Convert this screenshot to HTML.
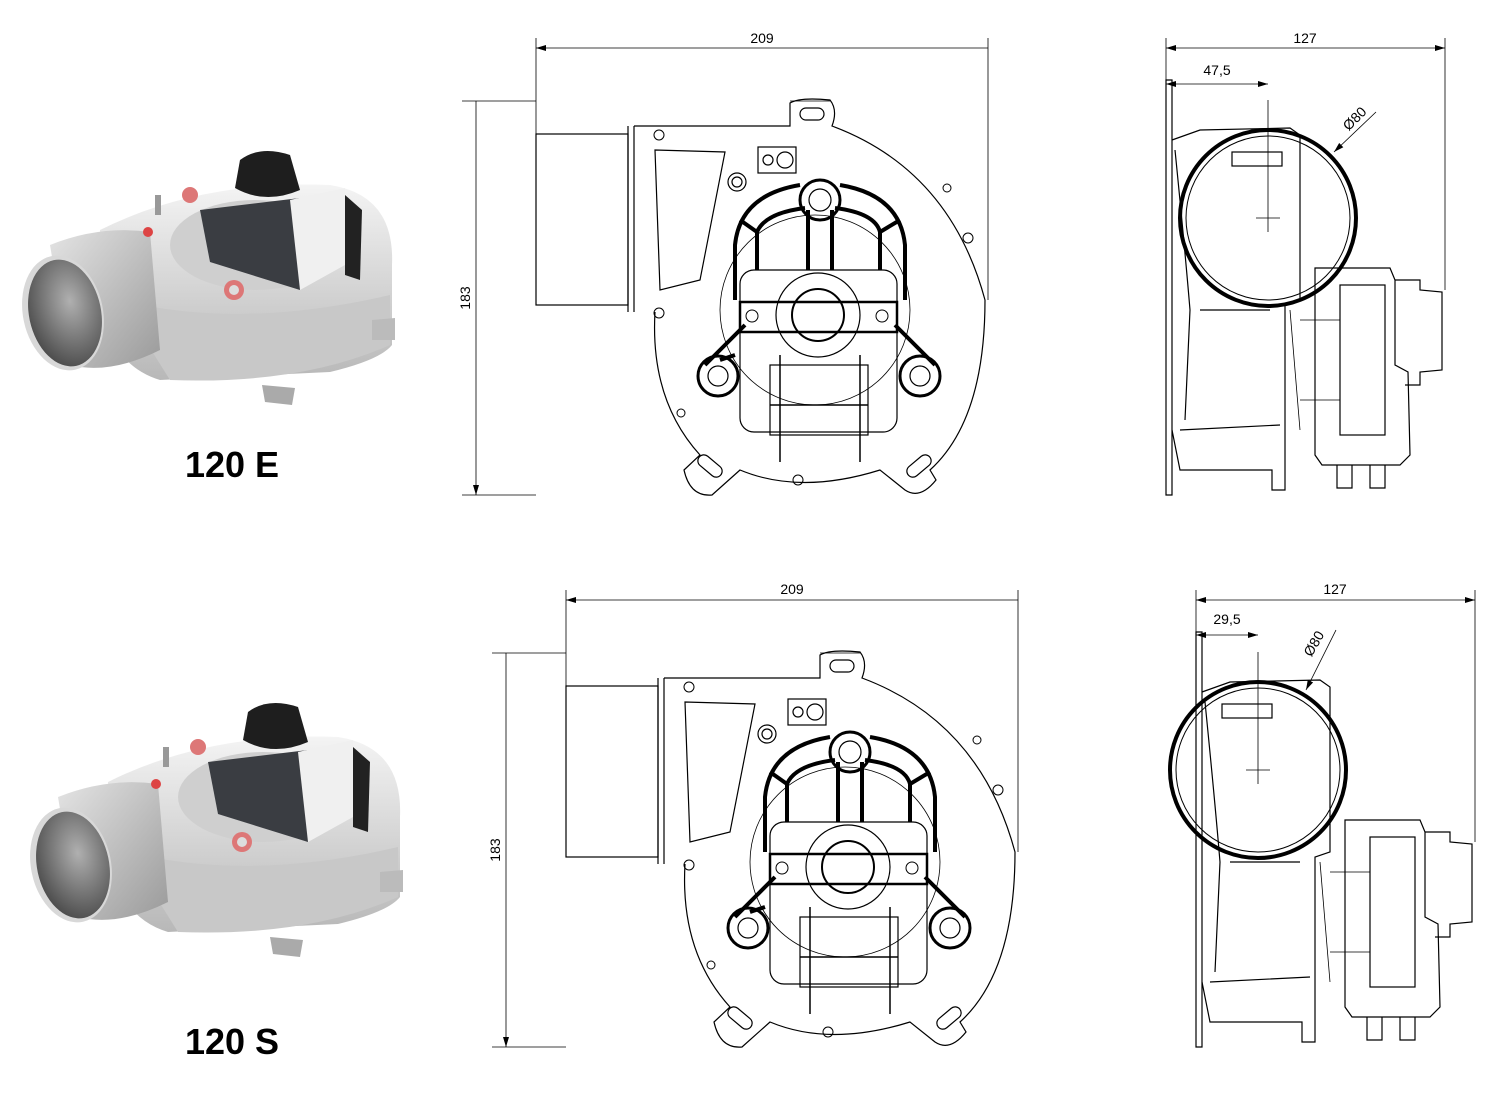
<!DOCTYPE html>
<html><head><meta charset="utf-8"><style>
html,body{margin:0;padding:0;background:#fff;}
svg{display:block}
text{font-family:"Liberation Sans",sans-serif}
</style></head><body>
<svg width="1500" height="1100" viewBox="0 0 1500 1100" xmlns="http://www.w3.org/2000/svg">
<defs>
<linearGradient id="pipe" x1="0" y1="0" x2="1" y2="1"><stop offset="0" stop-color="#e4e4e4"/><stop offset="1" stop-color="#9a9a9a"/></linearGradient>
<linearGradient id="body" x1="0" y1="0" x2="0" y2="1"><stop offset="0" stop-color="#f4f4f4"/><stop offset="1" stop-color="#b8b8b8"/></linearGradient>
<radialGradient id="hole" cx="0.6" cy="0.4" r="0.7"><stop offset="0" stop-color="#b0b0b0"/><stop offset="1" stop-color="#444"/></radialGradient>
<marker id="ar" markerWidth="10" markerHeight="6" refX="10" refY="3" orient="auto-start-reverse" markerUnits="userSpaceOnUse"><path d="M0,0 L10,3 L0,6z" fill="#000"/></marker>

<g id="render">
  <path d="M262,385 L295,388 L292,405 L265,402z" fill="#aaa"/>
  <path d="M100,230 Q200,180 330,185 Q395,195 392,265 L392,345 Q380,360 330,372 L160,380 Q110,365 100,300z" fill="url(#body)"/>
  <path d="M120,300 Q240,330 390,295 L390,345 Q300,385 170,380z" fill="#c8c8c8"/>
  <path d="M372,320 L395,318 L395,340 L372,340z" fill="#bbb"/>
  <path d="M50,245 Q100,225 150,232 L160,350 Q110,375 70,365z" fill="url(#pipe)"/>
  <ellipse cx="63" cy="313" rx="40" ry="58" transform="rotate(-12 63 313)" fill="#d8d8d8"/>
  <ellipse cx="65" cy="313" rx="36" ry="54" transform="rotate(-12 65 313)" fill="url(#hole)"/>
  <ellipse cx="255" cy="245" rx="85" ry="45" fill="#cfcfcf"/>
  <path d="M200,210 L300,198 L300,290 L210,262z" fill="#3a3d42"/>
  <path d="M290,200 L345,188 L345,265 L300,290z" fill="#f0f0f0"/>
  <path d="M345,195 L362,210 L360,280 L345,275z" fill="#222"/>
  <path d="M240,160 Q260,145 290,155 L300,190 Q265,205 235,188z" fill="#1e1e1e"/>
  <circle cx="234" cy="290" r="10" fill="#d77"/><circle cx="234" cy="290" r="5" fill="#ddd"/>
  <circle cx="190" cy="195" r="8" fill="#d77"/>
  <circle cx="148" cy="232" r="5" fill="#d44"/>
  <rect x="155" y="195" width="6" height="20" fill="#999"/>
</g>

<g id="front" fill="none" stroke="#000" stroke-width="1.2">
  <rect x="536" y="134" width="92" height="171"/>
  <path d="M628,126 L628,312 M634,126 L634,312"/>
  <path d="M634,126 L790,126 L790,103 Q800,97 830,100 Q838,110 832,126 Q950,170 985,300 Q985,420 930,470 L936,480 Q920,500 905,490 L880,470 Q800,495 740,470 L712,495 Q690,497 684,470 L700,455 Q650,400 655,312"/>
  <rect x="800" y="108" width="24" height="12" rx="6"/>
  <path d="M655,150 L725,152 L700,280 L660,290z"/>
  <circle cx="737" cy="182" r="9"/><circle cx="737" cy="182" r="5"/>
  <rect x="758" y="147" width="38" height="26"/><circle cx="785" cy="160" r="8"/><circle cx="768" cy="160" r="5"/>
  <circle cx="815" cy="310" r="95" stroke-width="0.8"/>
  <g stroke-width="4">
   <path d="M735,300 L735,245 Q740,195 800,185 M840,185 Q900,195 905,245 L905,300"/>
   <path d="M757,270 L757,232 Q765,213 805,208 M835,208 Q875,213 880,232 L880,270"/>
   <path d="M740,220 L757,232 M900,220 L880,232 M808,210 L808,270 M832,210 L832,270"/>
   <path d="M745,325 L705,365 M735,355 L720,360 M895,325 L935,365"/>
  </g>
  <circle cx="820" cy="200" r="20" stroke-width="3"/><circle cx="820" cy="200" r="11"/>
  <circle cx="718" cy="376" r="20" stroke-width="3"/><circle cx="718" cy="376" r="10"/>
  <circle cx="920" cy="376" r="20" stroke-width="3"/><circle cx="920" cy="376" r="10"/>
  <rect x="740" y="270" width="157" height="162" rx="14"/>
  <rect x="740" y="302" width="157" height="30" stroke-width="2.5"/>
  <circle cx="818" cy="315" r="42"/><circle cx="818" cy="315" r="26" stroke-width="2"/>
  <rect x="770" y="365" width="98" height="70"/>
  <path d="M780,355 L780,462 M860,355 L860,462 M770,405 L868,405" stroke-width="1.5"/>
  <g stroke-width="1"><circle cx="659" cy="135" r="5"/><circle cx="659" cy="313" r="5"/><circle cx="947" cy="188" r="4"/><circle cx="968" cy="238" r="5"/><circle cx="681" cy="413" r="4"/><circle cx="798" cy="480" r="5"/><circle cx="752" cy="316" r="6"/><circle cx="882" cy="316" r="6"/></g>
  <rect x="696" y="460" width="28" height="12" rx="6" transform="rotate(40 710 466)"/>
  <rect x="905" y="460" width="28" height="12" rx="6" transform="rotate(-40 919 466)"/>
  <g stroke-width="0.8">
   <path d="M536,134 L536,38 M988,300 L988,38 M536,101 L462,101 M536,495 L462,495 M830,101 L790,101"/>
   <path d="M536,48 L988,48 M476,101 L476,495" marker-start="url(#ar)" marker-end="url(#ar)"/>
  </g>
</g>

<g id="side" fill="none" stroke="#000" stroke-width="1.2">
  <path d="M1166,80 L1166,495 L1172,495 L1172,80z"/>
  <path d="M1172,140 L1200,130 L1290,128 L1300,135 L1300,300 L1285,305 L1285,490 L1272,490 L1272,470 L1180,470 L1172,430"/>
  <path d="M1180,430 L1280,425 M1175,150 Q1185,250 1190,310 L1185,420 M1200,310 L1270,310"/>
  <path d="M1290,310 L1300,430 M1300,320 L1340,320 M1300,400 L1340,400" stroke-width="0.8"/>
  <path d="M1315,268 L1390,268 L1395,280 L1395,365 L1408,372 L1410,455 L1400,465 L1322,465 L1315,455z"/>
  <rect x="1340" y="285" width="45" height="150"/>
  <path d="M1395,280 L1420,280 L1420,290 L1442,292 L1442,370 L1420,372 L1420,385 L1405,385"/>
  <path d="M1337,465 L1337,488 L1352,488 L1352,465 M1370,465 L1370,488 L1385,488 L1385,465"/>
  <g stroke-width="0.8">
   <path d="M1166,80 L1166,38 M1445,290 L1445,38"/>
   <path d="M1166,48 L1445,48" marker-start="url(#ar)" marker-end="url(#ar)"/>
  </g>
</g>
<g id="circ" fill="none" stroke="#000">
  <circle cx="0" cy="0" r="88" stroke-width="4"/><circle cx="0" cy="0" r="82" stroke-width="1"/>
  <path d="M0,-118 L0,14 M-12,0 L12,0" stroke-width="0.8"/>
  <rect x="-36" y="-66" width="50" height="14" stroke-width="1.2"/>
</g>
</defs>

<use href="#render"/>
<use href="#render" transform="translate(8,552)"/>
<use href="#front"/>
<use href="#front" transform="translate(30,552)"/>
<use href="#side"/>
<use href="#side" transform="translate(30,552)"/>
<use href="#circ" transform="translate(1268,218)"/>
<use href="#circ" transform="translate(1258,770)"/>
<g fill="none" stroke="#000" stroke-width="0.8">
 <path d="M1166,84 L1268,84" marker-start="url(#ar)" marker-end="url(#ar)"/>
 <path d="M1196,635 L1258,635" marker-start="url(#ar)" marker-end="url(#ar)"/>
 <path d="M1376,112 L1334,152" marker-end="url(#ar)"/>
 <path d="M1336,630 L1306,690" marker-end="url(#ar)"/>
</g>

<g font-size="14" fill="#000">
<text x="762" y="43" text-anchor="middle">209</text>
<text x="792" y="594" text-anchor="middle">209</text>
<text x="470" y="298" text-anchor="middle" transform="rotate(-90 470 298)">183</text>
<text x="500" y="850" text-anchor="middle" transform="rotate(-90 500 850)">183</text>
<text x="1305" y="43" text-anchor="middle">127</text>
<text x="1335" y="594" text-anchor="middle">127</text>
<text x="1217" y="75" text-anchor="middle">47,5</text>
<text x="1227" y="624" text-anchor="middle">29,5</text>
<text x="1358" y="122" text-anchor="middle" transform="rotate(-45 1358 122)">Ø80</text>
<text x="1318" y="646" text-anchor="middle" transform="rotate(-60 1318 646)">Ø80</text>
</g>
<g font-size="36" font-weight="bold" fill="#000">
<text x="232" y="477" text-anchor="middle">120 E</text>
<text x="232" y="1054" text-anchor="middle">120 S</text>
</g>
</svg>
</body></html>
